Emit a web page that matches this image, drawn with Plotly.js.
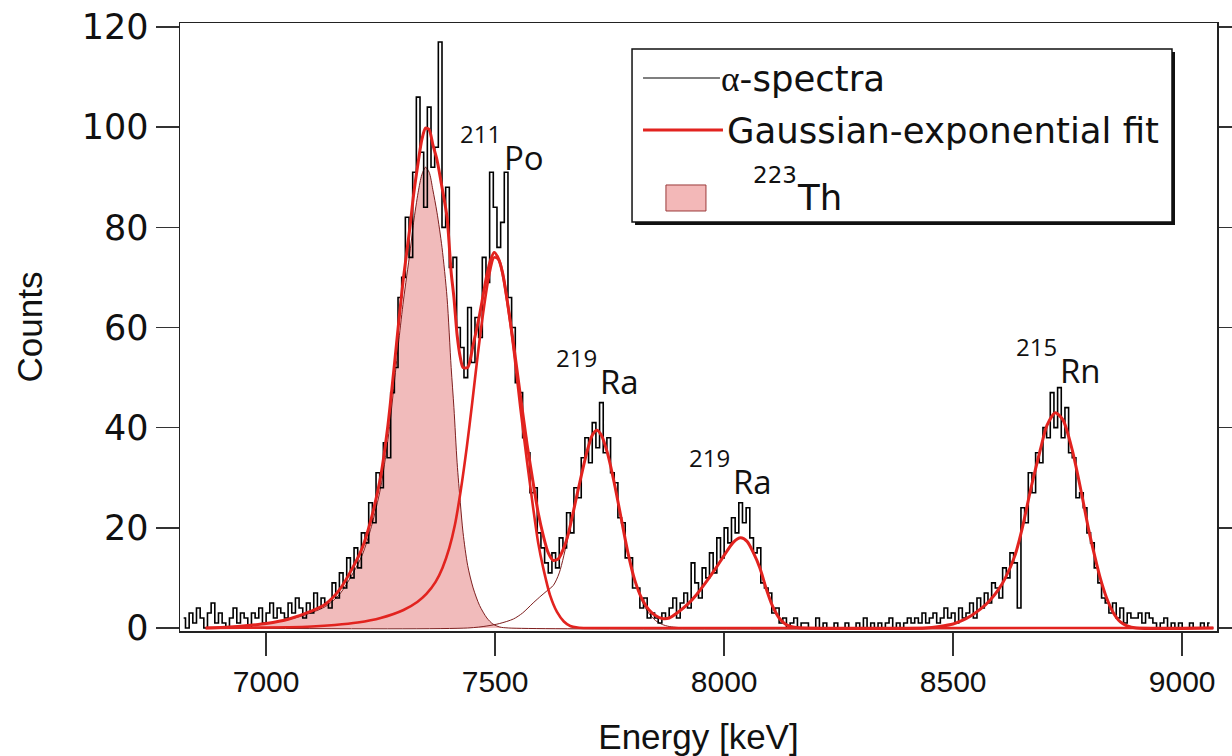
<!DOCTYPE html>
<html>
<head>
<meta charset="utf-8">
<script src="https://cdn.plot.ly/plotly-3.0.1.min.js"></script>
<style>
  html, body { margin: 0; padding: 0; background: #ffffff; }
  #chart { width: 1232px; height: 756px; }
</style>
</head>
<body>
<div id="chart"></div>
<script>
// Alpha spectrum: 8 keV bins starting at 6820 keV (bin centres)
const binStart = 6820;
const binWidth = 8;
const counts = [
  2, 0, 3, 1, 4, 2, 0, 3, 5, 1,
  3, 1, 0, 2, 4, 1, 3, 2, 0, 3,
  2, 4, 1, 3, 5, 2, 4, 3, 2, 5,
  3, 6, 4, 2, 5, 3, 7, 4, 6, 5,
  4, 9, 6, 11, 8, 14, 10, 16, 12, 19,
  17, 25, 21, 31, 28, 37, 34, 47, 52, 66,
  70, 82, 74, 91, 106, 95, 84, 104, 92, 96,
  117, 80, 88, 72, 74, 60, 56, 50, 64, 53,
  62, 58, 74, 69, 91, 84, 76, 81, 91, 66,
  60, 49, 47, 38, 35, 27, 28, 19, 16, 13,
  11, 15, 12, 18, 16, 23, 19, 28, 26, 34,
  38, 33, 41, 36, 45, 35, 38, 31, 29, 22,
  21, 14, 14, 8, 8, 4, 6, 2, 3, 2,
  1, 3, 2, 4, 6, 2, 5, 7, 4, 13,
  9, 6, 12, 10, 15, 11, 18, 14, 20, 17,
  22, 19, 25, 21, 24, 18, 15, 16, 9, 8,
  7, 3, 4, 1, 2, 0, 1, 2, 0, 1,
  1, 0, 0, 2, 0, 1, 0, 0, 1, 0,
  0, 1, 0, 0, 1, 0, 2, 0, 1, 0,
  1, 0, 1, 2, 0, 1, 0, 1, 2, 1,
  2, 1, 3, 1, 2, 3, 1, 2, 4, 2,
  3, 1, 4, 2, 3, 5, 2, 6, 4, 7,
  5, 9, 8, 6, 12, 10, 15, 13, 4, 24,
  21, 31, 27, 35, 33, 40, 38, 47, 40, 48,
  38, 44, 35, 34, 26, 27, 24, 19, 17, 12,
  9, 6, 5, 3, 5, 2, 4, 1, 3, 2,
  2, 3, 1, 3, 2, 1, 0, 1, 2, 0,
  1, 0, 1, 0, 0, 1, 0, 0, 1, 0, 1
];

// Total Gaussian-exponential fit
const fitEnergy = [
  6868, 6920, 6960, 7000, 7050, 7100, 7130, 7160, 7190, 7210,
  7230, 7250, 7266, 7280, 7290, 7300, 7314, 7322, 7332, 7340,
  7348, 7356, 7364, 7373, 7384, 7395, 7404, 7410, 7417, 7424,
  7430, 7440, 7452, 7466, 7482, 7490, 7498, 7506, 7516, 7528,
  7540, 7555, 7570, 7583, 7594, 7605, 7616, 7627, 7638, 7650,
  7660, 7680, 7700, 7712, 7722, 7732, 7745, 7760, 7775, 7790,
  7805, 7820, 7835, 7850, 7865, 7880, 7900, 7920, 7940, 7960,
  7980, 8000, 8020, 8036, 8050, 8064, 8078, 8092, 8106, 8120,
  8135, 8150, 8170, 8440, 8470, 8500, 8520, 8540, 8560, 8580,
  8600, 8614, 8635, 8651, 8670, 8690, 8705, 8723, 8740, 8760,
  8780, 8795, 8810, 8821, 8835, 8850, 8865, 8880, 8900, 9068
];
const fitTotal = [
  0, 0.2, 0.5, 0.9, 1.8, 3.4, 4.8, 7.6, 12.2, 16,
  22, 30.2, 40.5, 52.5, 61.5, 70, 80, 86.5, 93, 97.5,
  99.8, 99.5, 96.5, 93.5, 88, 82, 71, 66, 58.5, 54,
  52, 52, 56.5, 62.5, 70.5, 73.5, 75, 74, 71, 64.4,
  56.8, 46.5, 36.5, 29, 23, 18.5, 15, 13.5, 13.8, 16,
  18.9, 27.1, 35, 38.5, 39.5, 38.5, 35, 29, 22, 15,
  9.5, 5.9, 3.7, 2.5, 1.9, 2, 3.2, 4.7, 6.7, 9.1,
  11.7, 14.5, 17.1, 18, 17.3, 15, 12, 7.8, 4.3, 2,
  0.7, 0.2, 0, 0, 0.3, 0.8, 1.5, 2.5, 3.8, 5.5,
  7.8, 10, 14.5, 20, 28, 35.5, 40.5, 43, 41.5, 35.5,
  27, 20, 14, 10, 6, 3, 1.2, 0.4, 0, 0
];

// 223Th component
const thEnergy = [
  6868, 6960, 7000, 7050, 7100, 7130, 7160, 7190, 7210, 7230,
  7250, 7266, 7280, 7290, 7300, 7314, 7322, 7332, 7340, 7348,
  7356, 7364, 7373, 7384, 7395, 7404, 7410, 7417, 7424, 7430,
  7440, 7452, 7466, 7482, 7495, 7510, 7530, 9068
];
const thCounts = [
  0, 0.5, 0.9, 1.7, 3.1, 4.3, 6.7, 11, 14.6, 20.3,
  28, 37.6, 49, 57.6, 65.5, 75, 81, 87, 90.5, 92,
  91, 87.5, 83, 76, 66, 52, 44, 33, 25, 19,
  12.5, 8, 4.5, 2, 0.8, 0.2, 0, 0
];

// 211Po component
const poEnergy = [
  6868, 6950, 7050, 7100, 7150, 7200, 7250, 7300, 7330, 7350,
  7370, 7385, 7400, 7412, 7425, 7438, 7450, 7462, 7474, 7486,
  7498, 7508, 7518, 7530, 7542, 7555, 7570, 7583, 7594, 7605,
  7620, 7635, 7650, 7664, 7680, 7700, 9068
];
const poCounts = [
  0, 0.05, 0.15, 0.3, 0.6, 1.1, 2.0, 3.6, 5.2, 6.8,
  9.2, 12, 16, 20.5, 27.5, 36, 45, 54.5, 63, 70,
  74, 73.5, 70, 63, 54.5, 44, 33, 24, 17, 12,
  6.5, 3.2, 1.3, 0.4, 0.1, 0, 0
];

// 219Ra (7.72 MeV) component
const raEnergy = [
  6868, 7440, 7482, 7510, 7540, 7560, 7583, 7600, 7613, 7627,
  7640, 7660, 7680, 7700, 7712, 7722, 7732, 7745, 7760, 7775,
  7790, 7805, 7820, 7835, 7850, 7865, 7880, 7900, 7920, 9068
];
const raCounts = [
  0, 0, 0.4, 0.9, 1.8, 3, 5, 6.4, 7.4, 8.5,
  11, 18.5, 27, 35, 38.5, 39.5, 38.5, 35, 29, 22,
  15, 9.5, 5.5, 3, 1.5, 0.7, 0.3, 0.1, 0, 0
];

// Peak labels: nuclide symbol placed at (energy, counts), mass number above-left
const peakNuclide = ['Po', 'Ra', 'Ra', 'Rn'];
const peakMass = ['211', '219', '219', '215'];
const peakLabelEnergy = [7520, 7728, 8019, 8733];
const peakLabelCounts = [94, 49.3, 29.2, 51.5];

const RED = '#e2231f';
const DARKRED = '#7e1f1f';

const traces = [
  {
    x: thEnergy, y: thCounts, type: 'scatter', mode: 'lines',
    line: { color: DARKRED, width: 1, shape: 'spline', smoothing: 0.8 },
    fill: 'tozeroy', fillcolor: 'rgba(228,120,120,0.5)',
    name: '223Th', showlegend: false, hoverinfo: 'skip'
  },
  {
    x: raEnergy, y: raCounts, type: 'scatter', mode: 'lines',
    line: { color: DARKRED, width: 1, shape: 'spline', smoothing: 0.8 },
    name: '219Ra', showlegend: false, hoverinfo: 'skip'
  },
  {
    y: counts, x0: binStart, dx: binWidth, type: 'scatter', mode: 'lines',
    line: { color: '#000000', width: 1.6, shape: 'hvh' },
    name: 'α-spectra', showlegend: false
  },
  {
    x: poEnergy, y: poCounts, type: 'scatter', mode: 'lines',
    line: { color: RED, width: 2.6, shape: 'spline', smoothing: 0.8 },
    name: '211Po', showlegend: false, hoverinfo: 'skip'
  },
  {
    x: fitEnergy, y: fitTotal, type: 'scatter', mode: 'lines',
    line: { color: RED, width: 3, shape: 'spline', smoothing: 0.7 },
    name: 'Gaussian-exponential fit', showlegend: false
  }
];

// Legend box geometry (paper coordinates)
const legX0 = 0.4359, legX1 = 0.9566, legYTop = 0.9572, legYBot = 0.6727;
const shadowDX = 0.0029, shadowDY = 0.0049;

const shapes = [
  { type: 'rect', xref: 'paper', yref: 'paper', layer: 'above',
    x0: legX0 + shadowDX, x1: legX1 + shadowDX, y0: legYBot - shadowDY, y1: legYTop - shadowDY,
    fillcolor: '#111111', line: { width: 0 } },
  { type: 'rect', xref: 'paper', yref: 'paper', layer: 'above',
    x0: legX0, x1: legX1, y0: legYBot, y1: legYTop,
    fillcolor: '#ffffff', line: { color: '#111111', width: 1.5 } },
  { type: 'line', xref: 'paper', yref: 'paper', layer: 'above',
    x0: 0.4465, x1: 0.5207, y0: 0.9095, y1: 0.9095,
    line: { color: '#000000', width: 1.2 } },
  { type: 'line', xref: 'paper', yref: 'paper', layer: 'above',
    x0: 0.4465, x1: 0.5236, y0: 0.8240, y1: 0.8240,
    line: { color: RED, width: 3.2 } },
  { type: 'rect', xref: 'paper', yref: 'paper', layer: 'above',
    x0: 0.4686, x1: 0.5072, y0: 0.6908, y1: 0.7336,
    fillcolor: '#f3b8b8', line: { color: '#9a3a3a', width: 1 } }
];

const legendFont = { family: 'DejaVu Sans, sans-serif', size: 35.5, color: '#111111' };
const annotations = [
  { xref: 'paper', yref: 'paper', x: 0.5200, y: 0.9095, xanchor: 'left', yanchor: 'middle',
    showarrow: false, font: legendFont,
    text: '<span style="font-family:\'Liberation Serif\', serif">α</span>-spectra' },
  { xref: 'paper', yref: 'paper', x: 0.5255, y: 0.8240, xanchor: 'left', yanchor: 'middle',
    showarrow: false, font: legendFont, text: 'Gaussian-exponential fit' },
  { xref: 'paper', yref: 'paper', x: 0.5510, y: 0.7500, xanchor: 'left', yanchor: 'middle',
    showarrow: false, font: { family: 'DejaVu Sans, sans-serif', size: 23, color: '#111111' },
    text: '223' },
  { xref: 'paper', yref: 'paper', x: 0.5930, y: 0.7130, xanchor: 'left', yanchor: 'middle',
    showarrow: false, font: legendFont, text: 'Th' }
];

peakNuclide.forEach(function (sym, i) {
  annotations.push({
    xref: 'x', yref: 'y', x: peakLabelEnergy[i], y: peakLabelCounts[i],
    xanchor: 'left', yanchor: 'middle', xshift: -2, showarrow: false,
    font: { family: 'Open Sans, sans-serif', size: 33, color: '#111111' },
    text: sym
  });
  annotations.push({
    xref: 'x', yref: 'y', x: peakLabelEnergy[i], y: peakLabelCounts[i],
    xanchor: 'right', yanchor: 'middle', xshift: -1, yshift: 24, showarrow: false,
    font: { family: 'Open Sans, sans-serif', size: 24, color: '#111111' },
    text: peakMass[i]
  });
});

const layout = {
  width: 1232, height: 756,
  margin: { l: 180, r: 15, t: 23, b: 125 },
  paper_bgcolor: '#ffffff', plot_bgcolor: '#ffffff',
  showlegend: false,
  xaxis: {
    range: [6812, 9076],
    tickvals: [7000, 7500, 8000, 8500, 9000],
    ticktext: ['7000', '7500', '8000', '8500', '9000'],
    ticks: 'outside', ticklen: 23, tickwidth: 1.5, tickcolor: '#333333',
    showline: true, linecolor: '#222222', linewidth: 1.5, mirror: true,
    showgrid: false, zeroline: false, automargin: false,
    tickfont: { family: 'Liberation Sans, Arial, sans-serif', size: 30, color: '#111111' },
    title: { text: 'Energy [keV]', standoff: 40,
      font: { family: 'Liberation Sans, Arial, sans-serif', size: 35, color: '#111111' } }
  },
  yaxis: {
    range: [-0.6, 120.8],
    tickvals: [0, 20, 40, 60, 80, 100, 120],
    ticktext: ['0', '20', '40', '60', '80', '100', '120'],
    ticks: 'outside', ticklen: 23, tickwidth: 1.5, tickcolor: '#333333',
    showline: true, linecolor: '#222222', linewidth: 1.5, mirror: 'ticks',
    showgrid: false, zeroline: false, automargin: false,
    tickfont: { family: 'DejaVu Sans, sans-serif', size: 35, color: '#111111' },
    title: { text: 'Counts', standoff: 28,
      font: { family: 'Liberation Sans, Arial, sans-serif', size: 35, color: '#111111' } }
  },
  shapes: shapes,
  annotations: annotations
};

Plotly.newPlot('chart', traces, layout, { displayModeBar: false, staticPlot: true });
</script>
</body>
</html>
